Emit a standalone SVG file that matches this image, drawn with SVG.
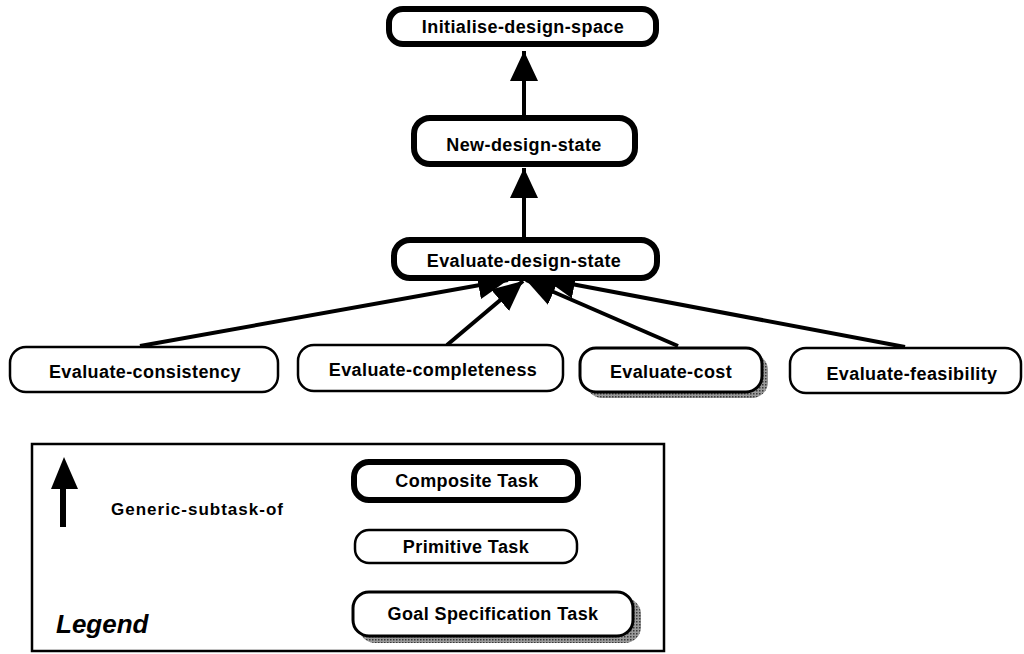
<svg xmlns="http://www.w3.org/2000/svg" width="1024" height="654" viewBox="0 0 1024 654">
  <style>
    .composite { fill: #fff; stroke: #000; stroke-width: 6; }
    .primitive { fill: #fff; stroke: #000; stroke-width: 2.5; }
    .goal { fill: #fff; stroke: #000; stroke-width: 3; }
    .shadow { fill: url(#halftone); }
    .label { font-family: "Liberation Sans", Arial, sans-serif; font-weight: bold; font-size: 18px; letter-spacing: 0.4px; fill: #000; text-anchor: middle; }
    .link { stroke: #000; stroke-width: 4; fill: none; }
    .legend-frame { fill: none; stroke: #000; stroke-width: 2.5; }
  </style>
  <defs>
    <pattern id="halftone" width="3" height="3" patternUnits="userSpaceOnUse">
      <rect width="3" height="3" fill="#9a9a9a"/>
      <rect width="1.5" height="1.5" fill="#3a3a3a"/>
    </pattern>
    <marker id="head" viewBox="0 0 30 28" refX="30" refY="14" markerWidth="30" markerHeight="28" markerUnits="userSpaceOnUse" orient="auto">
      <path d="M0,0 L30,14 L0,28 Z" fill="#000"/>
    </marker>
  </defs>

  <rect width="1024" height="654" fill="#fff"/>

  <!-- generic-subtask-of connectors -->
  <g id="connectors">
    <line class="link" x1="524" y1="118" x2="524" y2="51" marker-end="url(#head)"/>
    <line class="link" x1="524" y1="238" x2="524" y2="168" marker-end="url(#head)"/>
    <line class="link" x1="140" y1="346" x2="508" y2="280" marker-end="url(#head)"/>
    <line class="link" x1="447" y1="345" x2="523" y2="281" marker-end="url(#head)"/>
    <line class="link" x1="678" y1="346" x2="526" y2="280" marker-end="url(#head)"/>
    <line class="link" x1="905" y1="347" x2="545" y2="279" marker-end="url(#head)"/>
  </g>

  <!-- task hierarchy -->
  <g id="initialise-design-space">
    <rect class="composite" x="389" y="9" width="267" height="35" rx="14"/>
    <text class="label" x="523" y="33">Initialise-design-space</text>
  </g>
  <g id="new-design-state">
    <rect class="composite" x="414" y="118" width="221" height="46" rx="16"/>
    <text class="label" x="524" y="151">New-design-state</text>
  </g>
  <g id="evaluate-design-state">
    <rect class="composite" x="394" y="240" width="263" height="38" rx="16"/>
    <text class="label" x="524" y="267">Evaluate-design-state</text>
  </g>
  <g id="evaluate-consistency">
    <rect class="primitive" x="10" y="347" width="268" height="45" rx="16"/>
    <text class="label" x="145" y="378">Evaluate-consistency</text>
  </g>
  <g id="evaluate-completeness">
    <rect class="primitive" x="298" y="345" width="265" height="46" rx="16"/>
    <text class="label" x="433" y="376">Evaluate-completeness</text>
  </g>
  <g id="evaluate-cost">
    <rect class="shadow" x="586" y="354" width="182" height="44" rx="16"/>
    <rect class="goal" x="580" y="348" width="182" height="44" rx="16"/>
    <text class="label" x="671" y="378">Evaluate-cost</text>
  </g>
  <g id="evaluate-feasibility">
    <rect class="primitive" x="790" y="348" width="231" height="45" rx="16"/>
    <text class="label" x="912" y="380">Evaluate-feasibility</text>
  </g>

  <!-- legend -->
  <g id="legend">
    <rect class="legend-frame" x="32" y="444" width="632" height="207"/>
    <line stroke="#000" stroke-width="6" x1="63" y1="527" x2="63" y2="486"/>
    <path d="M51,489 L64,457 L78,489 Z" fill="#000"/>
    <text class="label" x="111" y="515" style="text-anchor:start;font-size:17px;letter-spacing:1px">Generic-subtask-of</text>
    <text x="56" y="633" style="font-family:'Liberation Sans',Arial,sans-serif;font-weight:bold;font-style:italic;font-size:26px">Legend</text>
  </g>
  <g id="legend-composite">
    <rect class="composite" x="354" y="462" width="224" height="38" rx="15"/>
    <text class="label" x="467" y="487">Composite Task</text>
  </g>
  <g id="legend-primitive">
    <rect class="primitive" x="355" y="530" width="222" height="33" rx="14"/>
    <text class="label" x="466" y="553">Primitive Task</text>
  </g>
  <g id="legend-goal">
    <rect class="shadow" x="359" y="598" width="282" height="45" rx="16"/>
    <rect class="goal" x="353" y="592" width="280" height="44" rx="16"/>
    <text class="label" x="493" y="620">Goal Specification Task</text>
  </g>
</svg>
